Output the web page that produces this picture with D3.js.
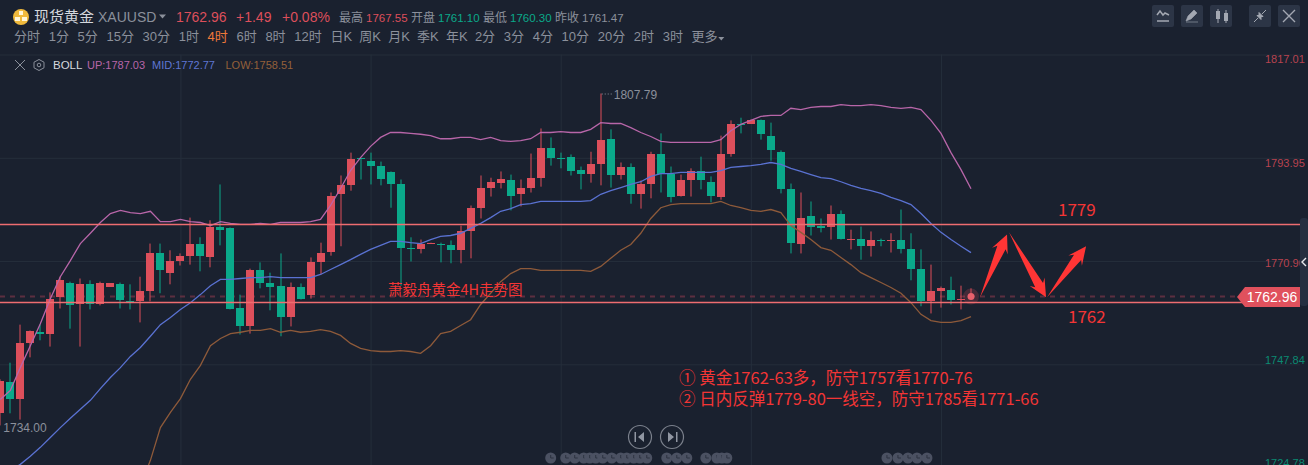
<!DOCTYPE html>
<html>
<head>
<meta charset="utf-8">
<script src="https://cdn.jsdelivr.net/npm/d3@7/dist/d3.min.js"></script>
<style>
  html, body { margin: 0; padding: 0; background: #1a212f; overflow: hidden; }
  svg { display: block; }
  text { font-family: "Liberation Sans", "Noto Sans CJK SC", sans-serif; }
  .cjk { font-family: "Noto Sans CJK SC", sans-serif; }
</style>
</head>
<body>
<svg id="chart" width="1308" height="465"></svg>
<script>
// 4H candles, oldest first
const opens = [1736.9,1743.8,1740.2,1752.7,1755.0,1754.7,1762.8,1766.1,1761.2,1765.7,1761.2,1765.2,1765.7,1761.9,1761.9,1764.3,1772.6,1768.3,1770.8,1772.1,
  1774.6,1771.9,1778.4,1778.2,1760.5,1756.5,1768.8,1765.9,1765.4,1758.3,1765.2,1763.4,1770.6,1773.0,1785.8,1787.8,1793.8,1793.3,1792.2,1790.7,
  1788.0,1773.7,1773.5,1774.8,1774.8,1774.4,1773.3,1777.7,1782.8,1787.3,1788.4,1789.1,1785.8,1787.1,1789.5,1796.2,1794.0,1794.2,1791.3,1790.4,
  1792.5,1798.2,1790.0,1791.8,1785.8,1788.0,1794.9,1790.4,1785.5,1788.9,1790.9,1788.6,1785.3,1794.9,1801.6,1801.6,1802.3,1798.9,1795.3,1786.9,
  1774.8,1780.9,1778.8,1778.4,1781.3,1775.7,1775.9,1774.2,1775.7,1775.5,1775.7,1773.5,1769.2,1761.9,1764.1,1764.5,1762.1,1762.7];
const highs = [1744.5,1748.2,1756.7,1755.4,1756.7,1763.9,1767.4,1766.3,1767.0,1766.6,1766.3,1765.9,1766.1,1765.7,1767.4,1774.8,1774.8,1773.3,1772.6,1780.6,
  1776.2,1780.0,1788.0,1778.4,1763.4,1769.2,1770.6,1768.3,1772.6,1766.1,1765.9,1771.7,1775.0,1786.2,1790.0,1795.1,1793.8,1795.1,1793.1,1790.9,
  1789.1,1776.2,1775.7,1775.0,1775.0,1775.5,1778.8,1783.3,1790.0,1789.5,1790.9,1790.2,1789.1,1794.9,1800.5,1798.5,1795.1,1794.7,1792.0,1795.3,
  1808.3,1800.3,1792.9,1792.7,1788.9,1795.3,1799.4,1792.0,1790.2,1791.6,1794.2,1789.8,1798.9,1802.3,1802.9,1802.5,1802.5,1801.8,1795.6,1788.2,
  1786.2,1784.2,1780.4,1783.3,1782.2,1777.9,1778.6,1777.5,1775.9,1777.1,1782.4,1777.1,1773.5,1770.1,1765.2,1767.4,1765.4,1764.8];
const lows = [1734.2,1736.9,1735.5,1749.4,1753.2,1751.8,1760.3,1755.8,1751.8,1760.1,1761.0,1765.2,1760.3,1760.1,1757.2,1761.9,1763.7,1765.7,1769.9,1770.1,
  1768.6,1769.5,1774.4,1760.1,1754.5,1754.7,1764.8,1759.9,1754.1,1756.3,1762.3,1762.5,1767.9,1772.1,1774.2,1786.6,1789.1,1788.0,1787.8,1782.8,
  1765.4,1770.8,1772.6,1774.8,1770.6,1770.4,1770.4,1771.5,1780.4,1785.3,1787.1,1782.2,1783.1,1786.2,1787.5,1792.2,1791.6,1790.0,1786.9,1788.4,
  1787.8,1787.3,1789.1,1783.7,1782.6,1784.9,1786.2,1784.0,1785.3,1785.3,1786.9,1784.0,1784.6,1794.2,1799.4,1801.6,1798.0,1793.3,1786.0,1772.6,
  1772.6,1776.6,1777.3,1775.7,1775.7,1773.5,1771.2,1771.9,1774.2,1772.8,1772.6,1766.6,1760.8,1759.2,1760.5,1761.2,1760.1,1762.3];
const closes = [1744.2,1740.0,1752.7,1755.2,1754.7,1762.5,1766.6,1761.0,1765.7,1761.2,1766.1,1765.9,1762.1,1761.6,1764.3,1772.6,1768.8,1770.8,1772.1,1774.6,
  1772.1,1778.6,1777.9,1760.3,1756.3,1769.0,1766.1,1765.2,1758.3,1765.0,1762.5,1770.6,1772.8,1785.5,1787.8,1793.6,1793.6,1792.2,1789.3,1788.0,
  1773.7,1773.5,1774.6,1775.0,1774.4,1773.3,1777.5,1782.8,1787.1,1788.6,1789.3,1785.5,1787.1,1789.5,1796.2,1794.0,1793.8,1790.9,1790.4,1792.5,
  1798.0,1790.2,1791.8,1785.8,1788.2,1794.9,1790.4,1785.3,1789.1,1791.1,1788.9,1785.5,1794.9,1801.6,1801.4,1802.3,1799.2,1795.6,1786.9,1775.0,
  1780.6,1778.6,1778.2,1781.3,1775.9,1775.9,1774.2,1775.7,1775.5,1775.7,1773.5,1769.2,1761.9,1764.3,1764.8,1762.1,1762.5,1762.96];

// BOLL bands, null where the band is off the chart
const upperBand = [1740.0,1742.0,1747.1,1752.0,1756.9,1762.5,1767.4,1771.0,1774.8,1777.1,1779.5,1781.5,1782.2,1781.7,1781.5,1782.0,1779.7,1779.7,1780.2,1779.7,
  1779.5,1778.8,1779.7,1779.3,1779.1,1779.1,1779.3,1779.1,1779.5,1779.5,1779.5,1779.7,1780.2,1783.3,1787.1,1791.1,1794.0,1796.5,1798.5,1799.6,
  1799.6,1799.4,1799.2,1798.9,1798.2,1798.2,1798.5,1798.5,1798.0,1798.5,1797.8,1797.6,1797.8,1798.2,1799.6,1799.6,1799.8,1799.6,1799.6,1800.3,
  1801.8,1801.6,1801.6,1800.7,1799.6,1798.7,1797.6,1797.4,1797.4,1797.4,1797.4,1797.4,1798.0,1800.0,1801.4,1802.3,1803.2,1803.4,1803.4,1805.0,
  1804.7,1805.2,1805.4,1805.4,1805.8,1805.6,1805.6,1805.8,1805.6,1805.2,1805.0,1805.2,1804.7,1802.3,1799.4,1795.1,1791.3,1787.03];
const midBand = [1723.0,1724.1,1725.5,1727.3,1729.3,1731.5,1733.7,1735.8,1737.8,1739.8,1742.4,1744.9,1747.1,1749.6,1751.6,1754.1,1756.7,1758.3,1760.1,1761.6,
  1763.4,1765.4,1766.8,1766.8,1767.0,1767.2,1767.2,1767.4,1767.2,1767.2,1767.2,1767.2,1767.9,1769.0,1770.1,1771.2,1772.4,1773.5,1774.4,1775.3,
  1775.3,1775.0,1774.8,1775.7,1776.4,1776.6,1777.1,1778.2,1779.3,1780.6,1782.0,1782.6,1783.5,1783.7,1784.2,1784.2,1784.2,1784.2,1784.2,1784.4,
  1785.8,1786.6,1787.3,1788.0,1788.6,1789.8,1790.4,1790.4,1790.7,1790.7,1790.7,1790.7,1791.1,1791.8,1792.0,1792.2,1792.5,1792.9,1792.5,1791.6,
  1790.9,1790.2,1789.5,1789.3,1788.6,1787.8,1787.1,1786.6,1786.0,1785.1,1784.4,1783.5,1781.5,1779.3,1777.3,1775.7,1774.2,1772.77];
const lowerBand = [null,null,null,null,null,null,null,null,null,null,null,null,null,null,1720.8,1726.4,1733.7,1737.1,1740.2,1744.5,
  1747.6,1752.0,1753.6,1754.7,1755.0,1755.4,1755.4,1755.8,1755.0,1755.4,1755.0,1755.2,1755.6,1755.2,1754.3,1752.5,1751.4,1750.9,1750.7,1750.7,
  1750.9,1750.7,1750.3,1752.0,1754.7,1755.2,1756.5,1757.8,1761.2,1763.7,1766.3,1768.1,1769.2,1769.2,1768.8,1768.8,1768.8,1768.8,1768.8,1768.6,
  1769.7,1771.5,1773.3,1774.6,1777.1,1780.4,1782.8,1783.5,1783.7,1783.7,1783.7,1783.7,1784.2,1783.3,1782.8,1782.2,1782.0,1782.4,1781.7,1778.8,
  1777.3,1775.7,1773.9,1773.3,1771.7,1770.1,1768.3,1767.2,1766.1,1765.0,1763.7,1761.6,1759.0,1757.6,1757.2,1757.2,1757.6,1758.51];

const priceTicks = [1817.01, 1793.95, 1770.90, 1747.84, 1724.78];
const gridBars = [18, 37, 56, 75, 94];
const lastPrice = 1762.96;
const highMark = { bar: 60, price: 1808.3, label: '1807.79' };
const lowMark = { bar: 0, price: 1734.2, label: '1734.00' };

// hand drawn analysis on top of the chart
const levels = [1779.1, 1761.7];
const levelLabels = ['1779', '1762'];
const arrows = [
  [[97.9, 1762.8], [100.6, 1776.8]],
  [[100.8, 1777.3], [104.5, 1762.8]],
  [[104.6, 1762.8], [108.5, 1774.2]]
];
const titleNote = '萧毅舟黄金4H走势图';
const planNotes = ['① 黄金1762-63多，防守1757看1770-76', '② 日内反弹1779-80一线空，防守1785看1771-66'];

const intervals = ['分时','1分','5分','15分','30分','1时','4时','6时','8时','12时','日K','周K','月K','季K','年K','2分','3分','4分','10分','20分','2时','3时','更多'];
const activeInterval = '4时';
const eventBars = [55, 56.5, 57.4, 58.3, 58.9, 59.5, 60.2, 61.1, 62, 62.6, 63.3, 63.9, 64.6, 66.6, 67.6, 68.6, 70.5, 71.6, 72.1, 72.6, 88.6, 89.7, 90.7, 91.6, 92.6];

const RED = '#dd4f5b', GREEN = '#0aa98a', NOTE = '#f33535', GREY = '#8b909b';
const WIDTH = 1308, HEIGHT = 465, PLOT_RIGHT = 1300;

const svg = d3.select('#chart');
const x = d3.scaleLinear().domain([0, 97]).range([0.3, 971]);
const y = d3.scaleLinear().domain([1817.01, 1724.78]).range([54.5, 467.6]);

function label (px, py, str, size, color, anchor) {
  return svg.append('text').attr('x', px).attr('y', py).attr('font-size', size)
    .attr('fill', color).attr('text-anchor', anchor || 'start').text(str);
}

// ---- grid and price axis
const yAxis = d3.axisRight(y).tickValues(priceTicks).tickSize(-PLOT_RIGHT).tickFormat(d3.format('.2f'));
const yAxisG = svg.append('g').attr('transform', `translate(${PLOT_RIGHT},0)`).call(yAxis);
yAxisG.select('.domain').remove();
yAxisG.selectAll('line').attr('stroke', '#252e3b');
const tickNudge = [4, 5, 1, -5, -5];
yAxisG.selectAll('text')
  .attr('x', -35)
  .attr('text-anchor', 'start')
  .attr('dy', (d, i) => (tickNudge[i] + 4) + 'px')
  .attr('font-size', 11)
  .attr('font-family', '"Liberation Sans"')
  .attr('fill', d => d > lastPrice ? '#b8434f' : '#0b8a72');

const xAxis = d3.axisBottom(x).tickValues(gridBars).tickSize(HEIGHT - 54).tickFormat('');
const xAxisG = svg.append('g').attr('transform', 'translate(0,54.5)').call(xAxis);
xAxisG.select('.domain').remove();
xAxisG.selectAll('line').attr('stroke', '#252e3b');

// ---- last price dashed line
svg.append('line').attr('x1', 0).attr('x2', 1240).attr('y1', y(lastPrice)).attr('y2', y(lastPrice))
  .attr('stroke', '#5c2f40').attr('stroke-width', 2).attr('stroke-dasharray', '5,5');

// ---- candles
const candles = svg.append('g').selectAll('g').data(d3.range(opens.length)).join('g')
  .attr('fill', i => closes[i] >= opens[i] ? RED : GREEN);
candles.append('rect')
  .attr('x', i => Math.round(x(i)) - 0.5)
  .attr('width', 1)
  .attr('y', i => y(highs[i]))
  .attr('height', i => y(lows[i]) - y(highs[i]));
// the running bar is hidden behind the price pulse
candles.filter(i => i < opens.length - 1).append('rect')
  .attr('x', i => Math.round(x(i)) - 4)
  .attr('width', 8)
  .attr('y', i => Math.round(y(Math.max(opens[i], closes[i]))))
  .attr('height', i => Math.max(1, Math.round(y(Math.min(opens[i], closes[i]))) - Math.round(y(Math.max(opens[i], closes[i])))));

// ---- BOLL
const bandLine = d3.line().defined(d => d !== null).x((d, i) => x(i)).y(d => y(d));
[[upperBand, '#b866a9'], [midBand, '#5a72d2'], [lowerBand, '#8e5a3a']].forEach(([band, color]) => {
  svg.append('path').attr('d', bandLine(band)).attr('fill', 'none').attr('stroke', color).attr('stroke-width', 1.3);
});

// current price pulse
const lastBar = opens.length - 1;
svg.append('circle').attr('cx', x(lastBar)).attr('cy', y(lastPrice)).attr('r', 8).attr('fill', RED).attr('opacity', 0.22);
svg.append('circle').attr('cx', x(lastBar)).attr('cy', y(lastPrice)).attr('r', 3.5).attr('fill', '#e8616c');

// ---- high / low marks
svg.append('line').attr('x1', x(highMark.bar) + 1).attr('x2', x(highMark.bar) + 11)
  .attr('y1', y(highMark.price) + 0.5).attr('y2', y(highMark.price) + 0.5)
  .attr('stroke', GREY).attr('stroke-dasharray', '1,2');
label(x(highMark.bar) + 13, y(highMark.price) + 5, highMark.label, 12, GREY);
label(x(lowMark.bar) + 3, y(lowMark.price) + 7, lowMark.label, 12, GREY);

// ---- analysis levels, arrows and notes
svg.selectAll('.level').data(levels).join('line').attr('class', 'level')
  .attr('x1', 0).attr('x2', PLOT_RIGHT)
  .attr('y1', d => Math.floor(y(d)) + 0.5).attr('y2', d => Math.floor(y(d)) + 0.5)
  .attr('stroke', '#ee6d70').attr('stroke-width', 1.3);

function arrowPath (from, to) {
  const x0 = x(from[0]), y0 = y(from[1]), x1 = x(to[0]), y1 = y(to[1]);
  const len = Math.hypot(x1 - x0, y1 - y0), ux = (x1 - x0) / len, uy = (y1 - y0) / len;
  const at = (along, side) => [x1 - ux * along - uy * side, y1 - uy * along + ux * side];
  return d3.line()([[x0, y0], at(14, -4.5), at(18, -8.5), [x1, y1], at(18, 8.5), at(14, 4.5)]) + 'Z';
}
svg.selectAll('.arrow').data(arrows).join('path').attr('class', 'arrow')
  .attr('d', d => arrowPath(d[0], d[1])).attr('fill', '#ff3535');

label(1058, y(levels[0]) - 8, levelLabels[0], 17, NOTE).attr('class', 'cjk');
label(1068, y(levels[1]) + 21, levelLabels[1], 17, NOTE).attr('class', 'cjk');
label(388, 295, titleNote, 14.5, NOTE).attr('class', 'cjk');
label(679, 384, planNotes[0], 16.5, NOTE).attr('class', 'cjk');
label(679, 405, planNotes[1], 16.5, NOTE).attr('class', 'cjk');

// ---- last price tag and collapse handle
const tagY = y(lastPrice) + 0.5;
svg.append('path').attr('fill', '#e0515d')
  .attr('d', d3.line()([[1237, tagY], [1245, tagY - 10], [PLOT_RIGHT, tagY - 10], [PLOT_RIGHT, tagY + 10], [1245, tagY + 10]]) + 'Z');
label(1272, tagY + 5, d3.format('.2f')(lastPrice), 14, '#fff', 'middle');
svg.append('rect').attr('x', PLOT_RIGHT).attr('y', 218).attr('width', 8).attr('height', 88).attr('rx', 3).attr('fill', '#252f40');
svg.append('path').attr('d', 'M1306,258 L1302,262 L1306,266').attr('fill', 'none').attr('stroke', '#e6e8ec').attr('stroke-width', 1.4);

// ---- header
svg.append('circle').attr('cx', 21).attr('cy', 17).attr('r', 8).attr('fill', '#efb93c');
svg.append('path').attr('d', 'M19,11h4v4h-4z M15,17h5v4h-5z M22,17h5v4h-5z').attr('fill', '#fff6d8');
label(34, 22, '现货黄金', 15, '#d5d8de').attr('class', 'cjk');
label(98, 22, 'XAUUSD', 14, GREY);
svg.append('path').attr('d', 'M159,14.5h7l-3.5,4z').attr('fill', GREY);
label(176, 22, '1762.96', 14, RED);
label(236, 22, '+1.49', 14, RED);
label(282, 22, '+0.08%', 14, RED);
label(339, 22, '最高', 12, GREY).attr('class', 'cjk');
label(366, 22, '1767.55', 11.5, RED);
label(411, 22, '开盘', 12, GREY).attr('class', 'cjk');
label(438, 22, '1761.10', 11.5, GREEN);
label(483, 22, '最低', 12, GREY).attr('class', 'cjk');
label(510, 22, '1760.30', 11.5, GREEN);
label(555, 22, '昨收', 12, GREY).attr('class', 'cjk');
label(582, 22, '1761.47', 11.5, GREY);

// interval row, each label follows the previous one
let cursor = 14;
intervals.forEach(name => {
  label(cursor, 41, name, 13, name === activeInterval ? '#f0793a' : GREY);
  const latin = name.replace(/[^0-9A-Z]/g, '').length;
  cursor += (name.length - latin) * 13 + latin * 7.2 + 8.7;
});
svg.append('path').attr('d', `M${cursor - 8},37h6l-3,3.5z`).attr('fill', GREY);

// BOLL legend
svg.append('path').attr('d', 'M15,60 L25,70 M25,60 L15,70').attr('stroke', '#8b909b').attr('fill', 'none');
svg.append('path').attr('d', 'M39,59.5 L44,62.2 V67.8 L39,70.5 L34,67.8 V62.2Z').attr('stroke', '#8b909b').attr('fill', 'none');
svg.append('circle').attr('cx', 39).attr('cy', 65).attr('r', 1.8).attr('stroke', '#8b909b').attr('fill', 'none');
label(53, 69, 'BOLL', 11.5, '#d5d8de');
label(87, 69, 'UP:1787.03', 11, '#b866a9');
label(152, 69, 'MID:1772.77', 11, '#5f76d2');
label(225.5, 69, 'LOW:1758.51', 11, '#94603a');

// ---- toolbar, top right
const toolButtons = [1152, 1181, 1210, 1249, 1278];
svg.selectAll('.tool').data(toolButtons).join('rect').attr('class', 'tool')
  .attr('x', d => d).attr('y', 5).attr('width', 22).attr('height', 22).attr('rx', 2).attr('fill', '#2c3546');
const glyph = '#a3a8b2';
svg.append('path').attr('d', 'M1157,15 L1160,11 L1163,15 L1165,13 L1169,15 M1157,21 H1169').attr('stroke', glyph).attr('stroke-width', 1.5).attr('fill', 'none');
svg.append('path').attr('d', 'M1186,21 L1188,16 L1194,10 L1197,13 L1191,19 Z M1186,22 H1198').attr('fill', glyph).attr('stroke', glyph).attr('stroke-width', 0.6);
svg.append('path').attr('d', 'M1216,11h4v8h-4z M1224,13h4v8h-4z').attr('fill', glyph);
svg.append('path').attr('d', 'M1218,9v14 M1226,10v13').attr('stroke', glyph);
svg.append('path').attr('d', 'M1254,22 L1258,18 M1266,10 L1262,14 M1257,15.5 L1261,15.5 L1261,19.5Z M1263,16.5 L1259,16.5 L1259,12.5Z').attr('stroke', glyph).attr('fill', glyph);
svg.append('path').attr('d', 'M1283,10 L1295,22 M1295,10 L1283,22').attr('stroke', glyph).attr('stroke-width', 1.4);

// ---- prev / next buttons
[640, 672].forEach((cx, k) => {
  svg.append('circle').attr('cx', cx).attr('cy', 437).attr('r', 11.5).attr('fill', 'none').attr('stroke', '#7b808c').attr('stroke-width', 1.2);
  const dir = k === 0 ? 1 : -1;
  svg.append('path').attr('fill', '#9096a2')
    .attr('d', `M${cx + 4 * dir},432 L${cx - 2 * dir},437 L${cx + 4 * dir},442Z M${cx - 4 * dir},432 h${-1.5 * dir} v10 h${1.5 * dir}Z`);
});

// ---- economic event markers along the bottom
const eventG = svg.append('g').selectAll('g').data(eventBars).join('g')
  .attr('transform', d => `translate(${x(d)},458)`);
eventG.append('circle').attr('r', 5.5).attr('fill', '#4b5162');
eventG.append('path').attr('d', 'M0,-3 V0 H3').attr('fill', 'none').attr('stroke', '#2c3240');
</script>
</body>
</html>
